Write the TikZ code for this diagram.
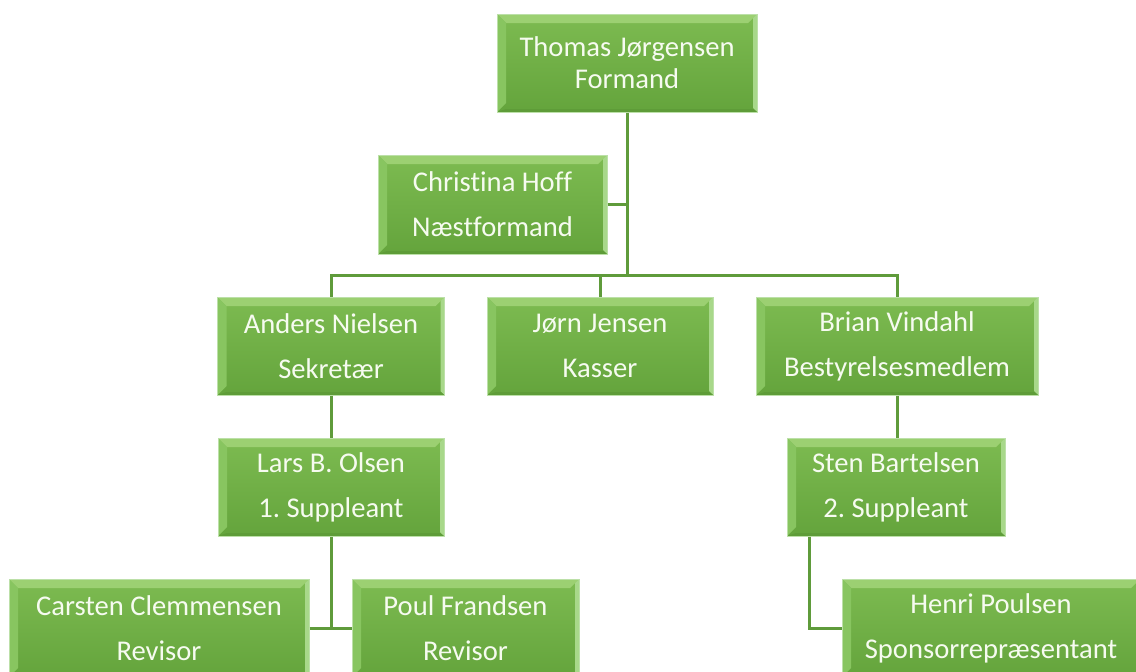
\documentclass[tikz,border=0pt]{standalone}
\usepackage{fontspec}
\setmainfont[Ligatures={NoCommon,NoRare,NoDiscretionary}]{Carlito}
\definecolor{linegreen}{HTML}{5F9B3B}
\definecolor{boxtop}{HTML}{7DBB51}
\definecolor{boxbot}{HTML}{64A43C}
\definecolor{bevlight}{HTML}{9CD072}
\definecolor{bevside}{HTML}{88C560}
\definecolor{bevright}{HTML}{A8D88A}
\definecolor{bevdark}{HTML}{5E9C38}
\definecolor{boxedge}{HTML}{BCE0A8}
\definecolor{txt}{HTML}{F6FBF0}
\tikzset{
  orgbox/.style={rectangle, minimum height=98pt, inner sep=0pt,
    top color=boxtop, bottom color=boxbot, draw=boxedge, line width=1pt,
    text=txt, align=center, font=\fontsize{28.6}{45}\selectfont,
    path picture={
      \def\bv{9pt}
      \fill[bevlight] (path picture bounding box.north west) -- (path picture bounding box.north east)
        -- ([xshift=-\bv,yshift=-\bv]path picture bounding box.north east)
        -- ([xshift=\bv,yshift=-\bv]path picture bounding box.north west) -- cycle;
      \fill[bevside] (path picture bounding box.north west) -- ([xshift=\bv,yshift=-\bv]path picture bounding box.north west)
        -- ([xshift=\bv,yshift=\bv]path picture bounding box.south west)
        -- (path picture bounding box.south west) -- cycle;
      \fill[bevright] (path picture bounding box.north east) -- ([xshift=-4pt,yshift=-4pt]path picture bounding box.north east)
        -- ([xshift=-4pt,yshift=4pt]path picture bounding box.south east)
        -- (path picture bounding box.south east) -- cycle;
      \fill[bevdark] (path picture bounding box.south west) -- ([xshift=\bv,yshift=3pt]path picture bounding box.south west)
        -- ([xshift=-4pt,yshift=3pt]path picture bounding box.south east)
        -- (path picture bounding box.south east) -- cycle;
    }},
  conn/.style={draw=linegreen, line width=3pt}
}
\begin{document}
\frenchspacing
\begin{tikzpicture}[x=1pt,y=-1pt]
\useasboundingbox (0,0) rectangle (1136,672);
\clip (0,0) rectangle (1136,672);
\coordinate (busy) at (0,275);
\node[orgbox, minimum width=260pt, font=\fontsize{28.6}{32}\selectfont] (T) at (627,63) {Thomas Jørgensen\\Formand};
\node[orgbox, minimum width=229pt, minimum height=99pt] (C) at (492.5,204.5) {Christina Hoff\\Næstformand};
\node[orgbox, minimum width=227pt] (A) at (331,346) {Anders Nielsen\\Sekretær};
\node[orgbox, minimum width=226pt] (J) at (600,346) {Jørn Jensen\\Kasser};
\node[orgbox, minimum width=282pt] (B) at (897,346) {Brian Vindahl\\Bestyrelsesmedlem};
\node[orgbox, minimum width=226pt] (L) at (331,487) {Lars B. Olsen\\1. Suppleant};
\node[orgbox, minimum width=218pt] (S) at (896,487) {Sten Bartelsen\\2. Suppleant};
\node[orgbox, minimum width=300pt] (Ca) at (159,628) {Carsten Clemmensen\\Revisor};
\node[orgbox, minimum width=227pt] (P) at (465.5,628) {Poul Frandsen\\Revisor};
\node[orgbox, minimum width=298pt] (H) at (991,628) {Henri Poulsen\\Sponsorrepræsentant};
\draw[conn] (C.east) -- (C.east -| T.south);
\draw[conn] (T.south) -- (T.south |- busy);
\draw[conn] (A.north) -- (A.north |- busy) -| (B.north);
\draw[conn] (J.north) -- (J.north |- busy);
\draw[conn] (A.south) -- (L.north);
\draw[conn] (B.south) -- (B.south |- S.north);
\draw[conn] (L.south) -- (L.south |- Ca.east);
\draw[conn] (Ca.east) -- (P.west);
\draw[conn] ([xshift=23pt]S.south west) |- (H.west);
\end{tikzpicture}
\end{document}
